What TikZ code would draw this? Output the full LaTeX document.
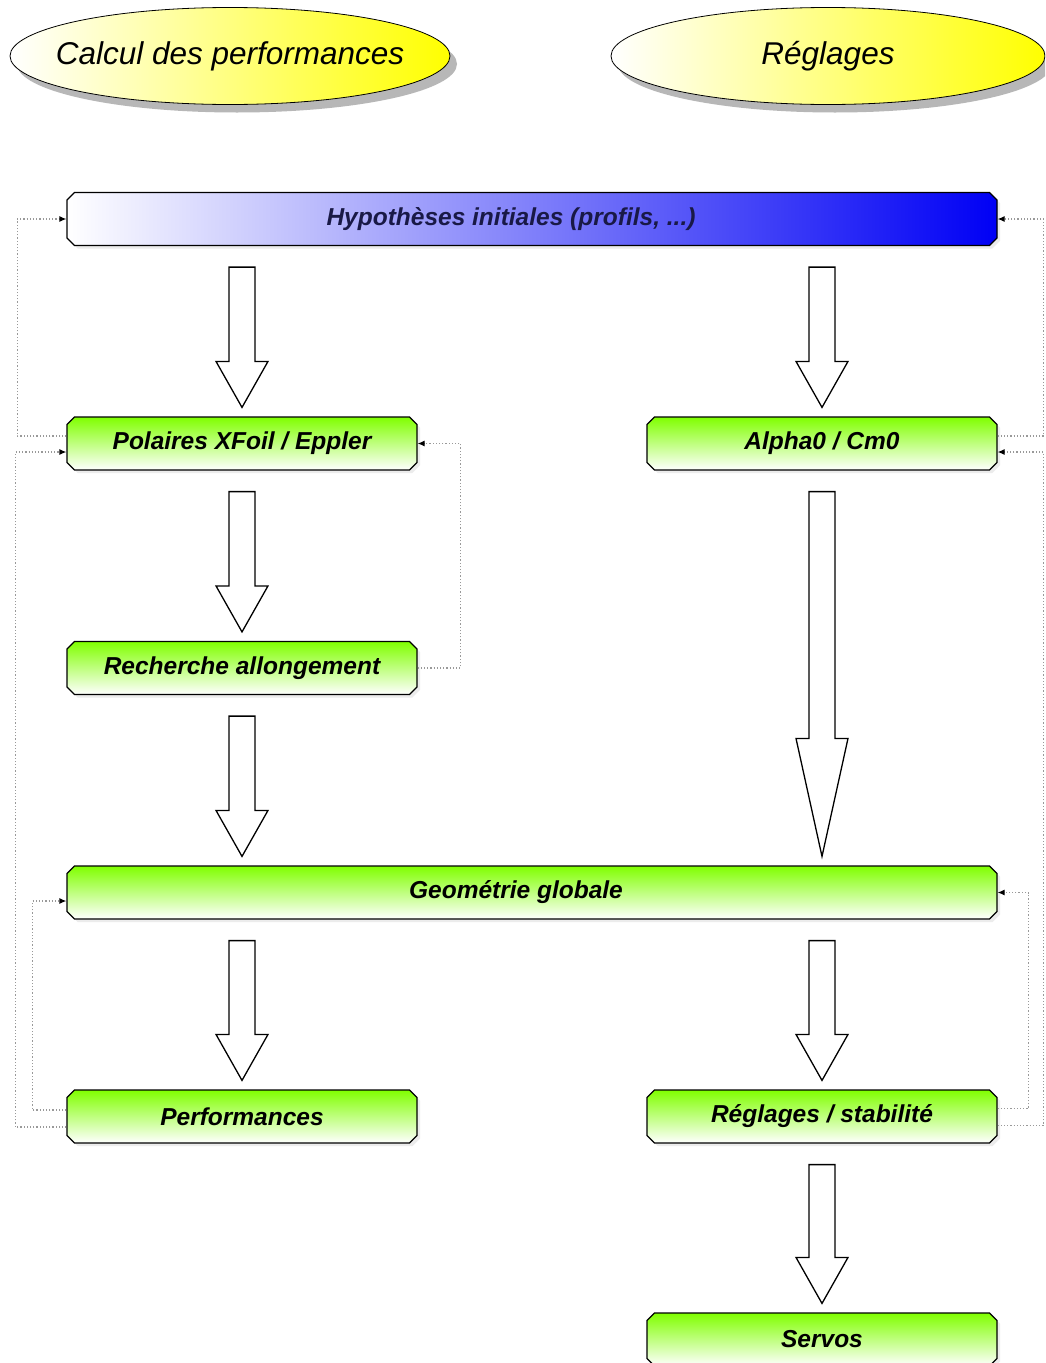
\documentclass[tikz,border=0pt]{standalone}
\usepackage{fontspec}
\setmainfont{Liberation Sans}
\usetikzlibrary{shapes.misc,shapes.geometric,shadows,arrows.meta,calc}
\definecolor{mylime}{RGB}{128,255,0}
\definecolor{myblue}{RGB}{0,0,245}
\definecolor{mynavy}{RGB}{25,25,70}
\definecolor{myyellow}{RGB}{255,255,0}
\tikzset{
  boxbase/.style={chamfered rectangle, chamfered rectangle xsep=4pt,
    draw=black, line width=1.2pt, minimum height=53pt, inner sep=0pt,
    font=\bfseries\itshape\fontsize{24.5}{28}\selectfont,
    drop shadow={shadow xshift=3pt, shadow yshift=-3pt, fill=gray, opacity=0.15}},
  greenbox/.style={boxbase, top color=mylime, bottom color=white, minimum width=350pt},
  bluebox/.style={boxbase, left color=white, right color=myblue, minimum width=930pt, text=mynavy},
  titleell/.style={ellipse, draw=black, line width=0.8pt, inner sep=0pt,
    minimum height=97pt, left color=white, middle color=myyellow!70!white, right color=myyellow,
    drop shadow={shadow xshift=7pt, shadow yshift=-8pt, fill=gray!80, opacity=0.7}},
  titletext/.style={font=\itshape\fontsize{31.5}{34}\selectfont, inner sep=0pt},
  bigarrow/.style={draw=black, fill=white, line width=1.3pt, line join=miter},
  feedback/.style={draw=gray!80, dotted, line width=1.2pt,
    -{Latex[black,length=7pt,width=6pt]}},
}
\newcommand\blockarrow[4]{% src, dst, x-node, head length
  \path[bigarrow] let \p1=(#2.north), \p2=(#1.south), \p3=(#3.center) in
   (\x3-13pt,\y2-21pt) -- (\x3-13pt,\y1+9pt+#4) -- (\x3-26pt,\y1+9pt+#4)
   -- (\x3,\y1+9pt) -- (\x3+26pt,\y1+9pt+#4) -- (\x3+13pt,\y1+9pt+#4)
   -- (\x3+13pt,\y2-21pt) -- cycle;}
\begin{document}
\begin{tikzpicture}[x=1pt,y=-1pt]
\useasboundingbox (0,0) rectangle (1045,1363);
\clip (0,0) rectangle (1045,1363);
\fill[white] (0,0) rectangle (1045,1363);

\node[titleell, minimum width=440pt] (calc) at (230,56) {};
\node[titletext] (calctext) at (calc.center) {Calcul des performances};
\node[titleell, minimum width=434pt] (regl) at (828,56) {};
\node[titletext] (regltext) at (regl.center) {Réglages};

\node[bluebox] (hyp) at (532,219) {\hspace*{-42pt}Hypothèses initiales (profils, ...)};
\node[greenbox] (pol) at (242,443.5) {Polaires XFoil / Eppler};
\node[greenbox] (alpha) at (822,443.5) {Alpha0 / Cm0};
\node[greenbox] (rech) at (242,668) {Recherche allongement};
\node[boxbase, top color=mylime, bottom color=white, minimum width=930pt] (geo) at (532,892.5) {\hspace*{-32pt}Geométrie globale};
\node[greenbox] (perf) at (242,1116.5) {Performances};
\node[greenbox] (rs) at (822,1116.5) {Réglages / stabilité};
\node[greenbox] (servos) at (822,1339.5) {Servos};

\blockarrow{hyp}{pol}{pol}{46pt}
\blockarrow{hyp}{alpha}{alpha}{46pt}
\blockarrow{pol}{rech}{pol}{46pt}
\blockarrow{rech}{geo}{rech}{46pt}
\blockarrow{alpha}{geo}{alpha}{118pt}
\blockarrow{geo}{perf}{perf}{46pt}
\blockarrow{geo}{rs}{rs}{46pt}
\blockarrow{rs}{servos}{rs}{46pt}

\draw[feedback] ([yshift=7.5pt]pol.west) -- ++(-49,0) |- (hyp.west);
\draw[feedback] ([yshift=-10.5pt]perf.west) -- ++(-51,0) |- ([yshift=-8.5pt]pol.west);
\draw[feedback] (rech.east) -- ++(43,0) |- (pol.east);
\draw[feedback] ([yshift=6.5pt]perf.west) -- ++(-34,0) |- ([yshift=-8.5pt]geo.west);
\draw[feedback] ([yshift=7.5pt]alpha.east) -- ++(46,0) |- (hyp.east);
\draw[feedback] ([yshift=-9pt]rs.east) -- ++(46,0) |- ([yshift=-8.5pt]alpha.east);
\draw[feedback] ([yshift=8pt]rs.east) -- ++(31,0) |- (geo.east);
\end{tikzpicture}
\end{document}
